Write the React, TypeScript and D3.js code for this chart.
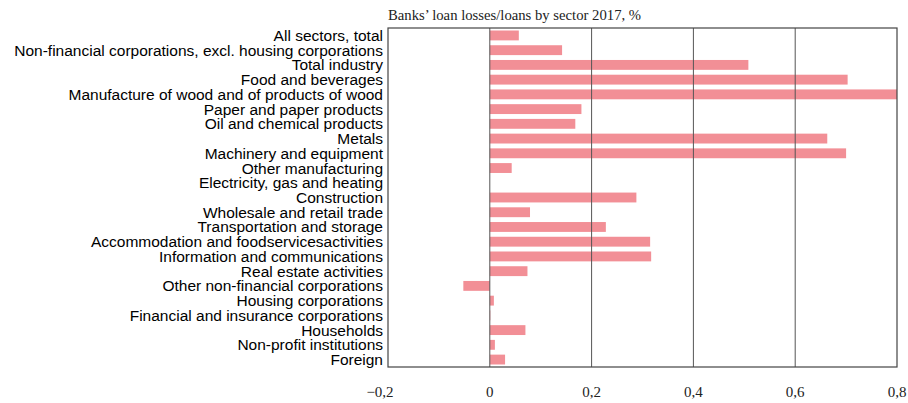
import React from 'react';
import * as d3 from 'd3';

const sectors = [
  'All sectors, total',
  'Non-financial corporations, excl. housing corporations',
  'Total industry',
  'Food and beverages',
  'Manufacture of wood and of products of wood',
  'Paper and paper products',
  'Oil and chemical products',
  'Metals',
  'Machinery and equipment',
  'Other manufacturing',
  'Electricity, gas and heating',
  'Construction',
  'Wholesale and retail trade',
  'Transportation and storage',
  'Accommodation and foodservicesactivities',
  'Information and communications',
  'Real estate activities',
  'Other non-financial corporations',
  'Housing corporations',
  'Financial and insurance corporations',
  'Households',
  'Non-profit institutions',
  'Foreign',
];

const lossRatio = [
  0.057, 0.142, 0.508, 0.703, 0.82, 0.18, 0.168, 0.663, 0.7, 0.043, 0,
  0.288, 0.079, 0.228, 0.315, 0.317, 0.074, -0.052, 0.008, 0.001, 0.07,
  0.01, 0.03,
];

const xTicks = [-0.2, 0, 0.2, 0.4, 0.6, 0.8];

const W = 908;
const H = 403;
const margin = { top: 28, right: 11, bottom: 36, left: 388 };

export default function App() {
  const x = d3
    .scaleLinear()
    .domain([-0.2, 0.8])
    .range([margin.left, W - margin.right]);
  const y = d3
    .scaleBand<string>()
    .domain(sectors)
    .range([margin.top, H - margin.bottom])
    .paddingInner(0.33)
    .paddingOuter(0.17);

  const tickLabel = (v: number) =>
    v === 0 ? '0' : d3.format('.1f')(Math.abs(v)).replace('.', ',');

  const [x0, x1] = x.range();
  const [y0, y1] = [margin.top, H - margin.bottom];

  return (
    <svg
      width={W}
      height={H}
      style={{ position: 'absolute', left: 0, top: 0, background: '#fff' }}
    >
      <defs>
        <clipPath id="plot">
          <rect x={x0} y={y0} width={x1 - x0} height={y1 - y0} />
        </clipPath>
      </defs>

      <text
        x={x0}
        y={20}
        fontFamily="Liberation Serif, serif"
        fontSize={14.7}
        fill="#222"
      >
        Banks’ loan losses/loans by sector 2017, %
      </text>

      {/* bars */}
      <g clipPath="url(#plot)">
        {sectors.map((s, i) => {
          const v = lossRatio[i];
          const left = x(Math.min(0, v));
          const w = Math.abs(x(v) - x(0));
          return (
            <rect
              key={s}
              x={left}
              y={y(s)}
              width={w}
              height={y.bandwidth()}
              fill="#f28f96"
            />
          );
        })}
      </g>

      {/* gridlines */}
      {xTicks.slice(1, -1).map((t) => (
        <line
          key={t}
          x1={x(t)}
          x2={x(t)}
          y1={y0}
          y2={y1}
          stroke="#555"
          strokeWidth={1}
        />
      ))}

      <rect
        x={x0}
        y={y0}
        width={x1 - x0}
        height={y1 - y0}
        fill="none"
        stroke="#444"
        strokeWidth={1.2}
      />

      {/* tick labels */}
      {xTicks.map((t) => (
        <text
          key={t}
          x={x(t)}
          y={397}
          textAnchor="middle"
          fontFamily="Liberation Serif, serif"
          fontSize={15}
          fill="#222"
          dx={t < 0 ? -8 : 0}
        >
          {t < 0 ? '\u2212' : ''}
          {tickLabel(t)}
        </text>
      ))}

      {/* category labels */}
      {sectors.map((s) => (
        <text
          key={s}
          x={x0 - 5}
          y={(y(s) as number) + y.bandwidth() / 2 + 5.5}
          textAnchor="end"
          fontFamily="Liberation Sans, Arial, sans-serif"
          fontSize={15.5}
          fill="#000"
        >
          {s}
        </text>
      ))}
    </svg>
  );
}
